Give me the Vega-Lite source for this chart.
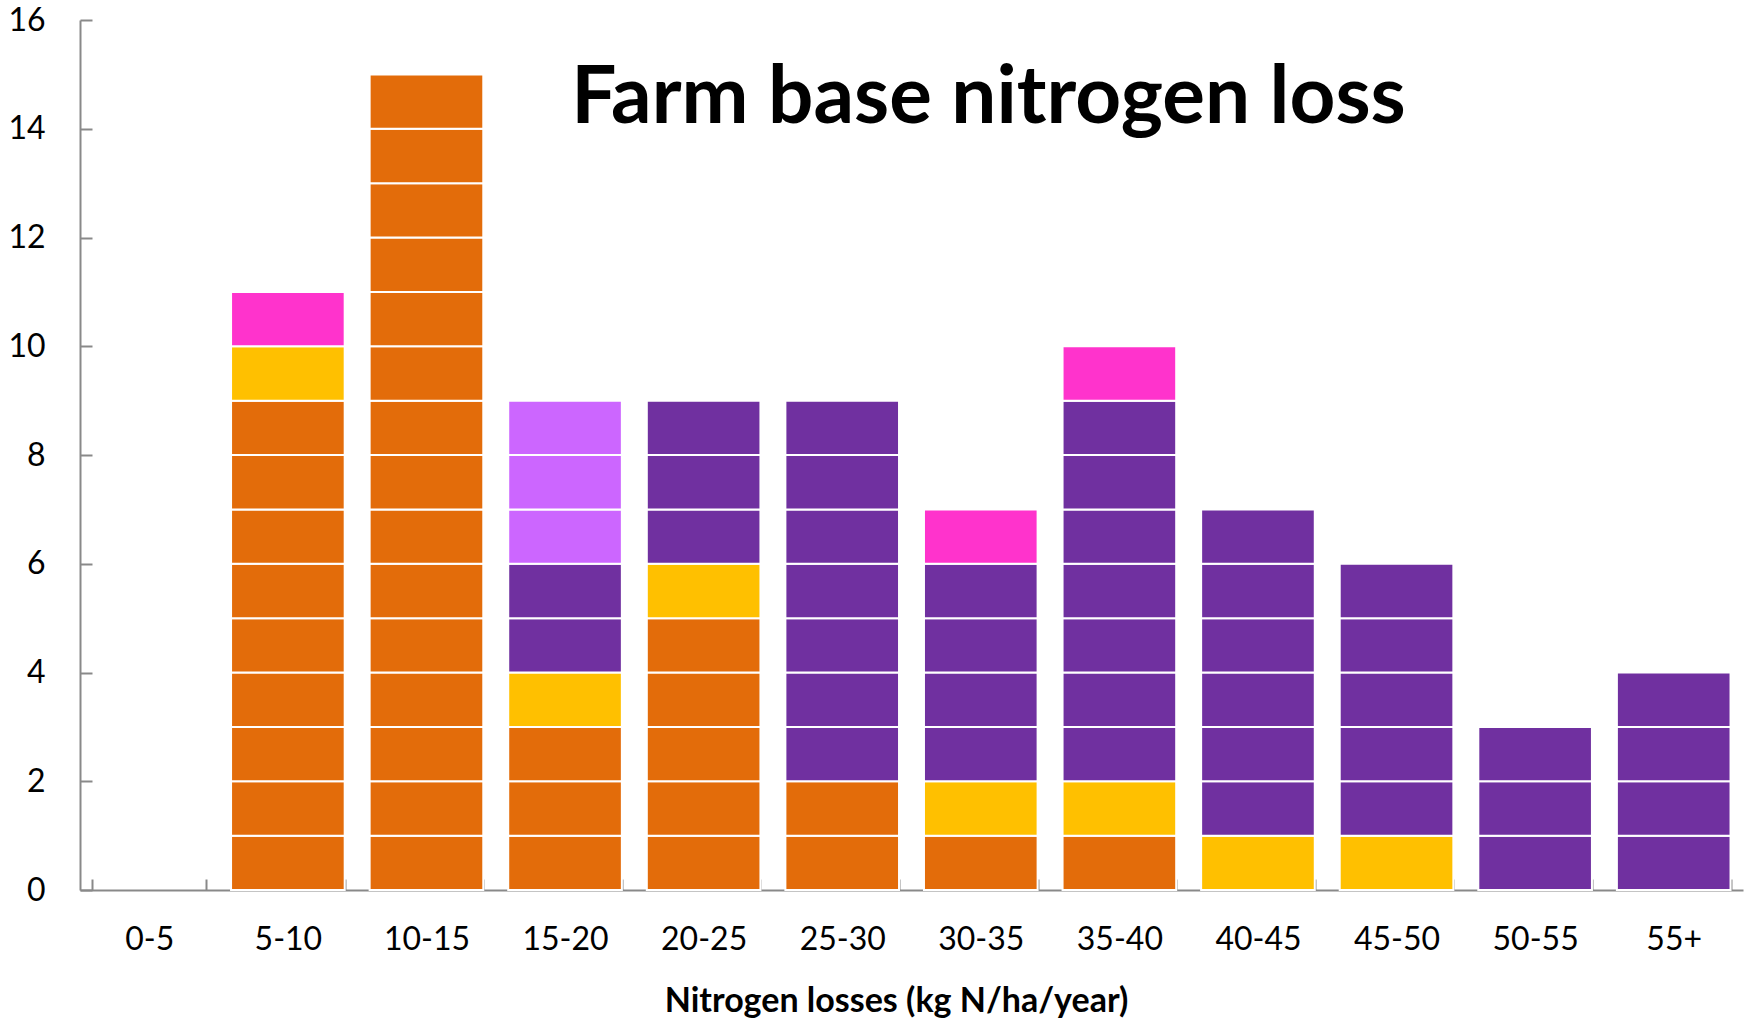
{
  "$schema": "https://vega.github.io/schema/vega-lite/v6.json",
  "width": 1663,
  "height": 870,
  "autosize": "none",
  "padding": {"left": 80, "top": 20, "right": 9, "bottom": 128},
  "background": "white",
  "config": {"view": {"stroke": null}},
  "title": {
    "text": "Farm base nitrogen loss",
    "font": "Lato",
    "fontSize": 80,
    "fontWeight": "bold",
    "color": "black",
    "anchor": "middle",
    "frame": "group",
    "baseline": "alphabetic",
    "orient": "top",
    "offset": -101,
    "dy": 98,
    "dx": 77
  },
  "data": {
    "values": [
      {"range": "5-10", "group": "A", "farms": 1}, {"range": "5-10", "group": "A", "farms": 1}, {"range": "5-10", "group": "A", "farms": 1},
      {"range": "5-10", "group": "A", "farms": 1}, {"range": "5-10", "group": "A", "farms": 1}, {"range": "5-10", "group": "A", "farms": 1},
      {"range": "5-10", "group": "A", "farms": 1}, {"range": "5-10", "group": "A", "farms": 1}, {"range": "5-10", "group": "A", "farms": 1},
      {"range": "5-10", "group": "B", "farms": 1}, {"range": "5-10", "group": "E", "farms": 1},
      {"range": "10-15", "group": "A", "farms": 1}, {"range": "10-15", "group": "A", "farms": 1}, {"range": "10-15", "group": "A", "farms": 1},
      {"range": "10-15", "group": "A", "farms": 1}, {"range": "10-15", "group": "A", "farms": 1}, {"range": "10-15", "group": "A", "farms": 1},
      {"range": "10-15", "group": "A", "farms": 1}, {"range": "10-15", "group": "A", "farms": 1}, {"range": "10-15", "group": "A", "farms": 1},
      {"range": "10-15", "group": "A", "farms": 1}, {"range": "10-15", "group": "A", "farms": 1}, {"range": "10-15", "group": "A", "farms": 1},
      {"range": "10-15", "group": "A", "farms": 1}, {"range": "10-15", "group": "A", "farms": 1}, {"range": "10-15", "group": "A", "farms": 1},
      {"range": "15-20", "group": "A", "farms": 1}, {"range": "15-20", "group": "A", "farms": 1}, {"range": "15-20", "group": "A", "farms": 1},
      {"range": "15-20", "group": "B", "farms": 1},
      {"range": "15-20", "group": "C", "farms": 1}, {"range": "15-20", "group": "C", "farms": 1},
      {"range": "15-20", "group": "D", "farms": 1}, {"range": "15-20", "group": "D", "farms": 1}, {"range": "15-20", "group": "D", "farms": 1},
      {"range": "20-25", "group": "A", "farms": 1}, {"range": "20-25", "group": "A", "farms": 1}, {"range": "20-25", "group": "A", "farms": 1},
      {"range": "20-25", "group": "A", "farms": 1}, {"range": "20-25", "group": "A", "farms": 1},
      {"range": "20-25", "group": "B", "farms": 1},
      {"range": "20-25", "group": "C", "farms": 1}, {"range": "20-25", "group": "C", "farms": 1}, {"range": "20-25", "group": "C", "farms": 1},
      {"range": "25-30", "group": "A", "farms": 1}, {"range": "25-30", "group": "A", "farms": 1},
      {"range": "25-30", "group": "C", "farms": 1}, {"range": "25-30", "group": "C", "farms": 1}, {"range": "25-30", "group": "C", "farms": 1},
      {"range": "25-30", "group": "C", "farms": 1}, {"range": "25-30", "group": "C", "farms": 1}, {"range": "25-30", "group": "C", "farms": 1},
      {"range": "25-30", "group": "C", "farms": 1},
      {"range": "30-35", "group": "A", "farms": 1}, {"range": "30-35", "group": "B", "farms": 1},
      {"range": "30-35", "group": "C", "farms": 1}, {"range": "30-35", "group": "C", "farms": 1}, {"range": "30-35", "group": "C", "farms": 1},
      {"range": "30-35", "group": "C", "farms": 1}, {"range": "30-35", "group": "E", "farms": 1},
      {"range": "35-40", "group": "A", "farms": 1}, {"range": "35-40", "group": "B", "farms": 1},
      {"range": "35-40", "group": "C", "farms": 1}, {"range": "35-40", "group": "C", "farms": 1}, {"range": "35-40", "group": "C", "farms": 1},
      {"range": "35-40", "group": "C", "farms": 1}, {"range": "35-40", "group": "C", "farms": 1}, {"range": "35-40", "group": "C", "farms": 1},
      {"range": "35-40", "group": "C", "farms": 1}, {"range": "35-40", "group": "E", "farms": 1},
      {"range": "40-45", "group": "B", "farms": 1},
      {"range": "40-45", "group": "C", "farms": 1}, {"range": "40-45", "group": "C", "farms": 1}, {"range": "40-45", "group": "C", "farms": 1},
      {"range": "40-45", "group": "C", "farms": 1}, {"range": "40-45", "group": "C", "farms": 1}, {"range": "40-45", "group": "C", "farms": 1},
      {"range": "45-50", "group": "B", "farms": 1},
      {"range": "45-50", "group": "C", "farms": 1}, {"range": "45-50", "group": "C", "farms": 1}, {"range": "45-50", "group": "C", "farms": 1},
      {"range": "45-50", "group": "C", "farms": 1}, {"range": "45-50", "group": "C", "farms": 1},
      {"range": "50-55", "group": "C", "farms": 1}, {"range": "50-55", "group": "C", "farms": 1}, {"range": "50-55", "group": "C", "farms": 1},
      {"range": "55+", "group": "C", "farms": 1}, {"range": "55+", "group": "C", "farms": 1}, {"range": "55+", "group": "C", "farms": 1},
      {"range": "55+", "group": "C", "farms": 1}
    ]
  },
  "mark": {"type": "bar", "stroke": "white", "strokeWidth": 2},
  "encoding": {
    "x": {
      "field": "range",
      "type": "nominal",
      "scale": {
        "domain": ["0-5", "5-10", "10-15", "15-20", "20-25", "25-30", "30-35", "35-40", "40-45", "45-50", "50-55", "55+"],
        "paddingInner": 0.18,
        "paddingOuter": 0.09
      },
      "axis": {
        "title": "Nitrogen losses (kg N/ha/year)",
        "titleFont": "Lato",
        "titleFontSize": 34,
        "titleFontWeight": "bold",
        "titleColor": "black",
        "titlePadding": 29,
        "titleX": 816,
        "labelFont": "Lato",
        "labelFontSize": 32,
        "labelColor": "black",
        "labelAngle": 0,
        "labelPadding": 45,
        "tickBand": "extent",
        "tickSize": -11,
        "tickColor": "#898989",
        "tickWidth": 2,
        "domainColor": "#898989",
        "domainWidth": 2
      }
    },
    "y": {
      "field": "farms",
      "type": "quantitative",
      "stack": "zero",
      "scale": {"domain": [0, 16], "nice": false},
      "axis": {
        "title": null,
        "values": [0, 2, 4, 6, 8, 10, 12, 14, 16],
        "grid": false,
        "labelFont": "Lato",
        "labelFontSize": 32,
        "labelColor": "black",
        "labelPadding": 47,
        "tickSize": -12,
        "tickColor": "#898989",
        "tickWidth": 2,
        "domainColor": "#898989",
        "domainWidth": 2
      }
    },
    "color": {
      "field": "group",
      "type": "nominal",
      "scale": {
        "domain": ["A", "B", "C", "D", "E"],
        "range": ["#E36C0A", "#FFC000", "#7030A0", "#CC66FF", "#FF33CC"]
      },
      "legend": null
    },
    "order": {"field": "group", "sort": "ascending"}
  }
}
